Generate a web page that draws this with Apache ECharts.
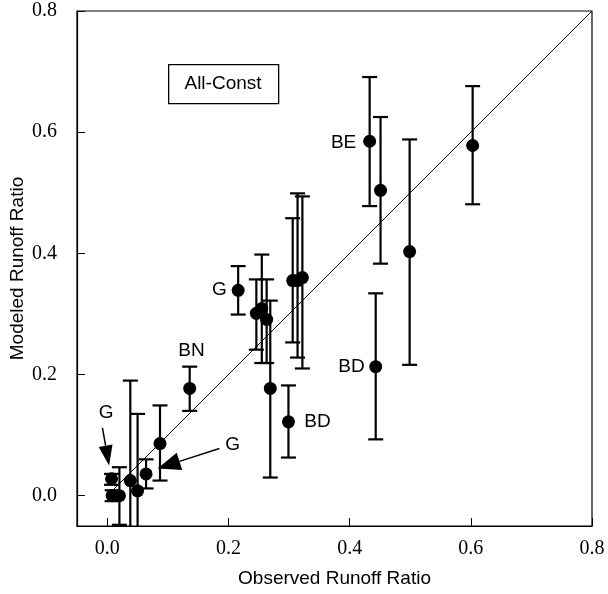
<!DOCTYPE html>
<html>
<head>
<meta charset="utf-8">
<script src="https://cdn.jsdelivr.net/npm/echarts@6/dist/echarts.min.js"></script>
<style>
html,body{margin:0;padding:0;background:#fff;}
#chart{width:608px;height:594px;}
</style>
</head>
<body>
<div id="chart"></div>
<script>
// ---- data ----
const obsX  = [0.007, 0.008, 0.020, 0.038, 0.050, 0.064, 0.087, 0.136, 0.216, 0.246, 0.255, 0.263, 0.269, 0.299, 0.306, 0.314, 0.322, 0.443, 0.433, 0.451, 0.499, 0.603];
const modY  = [0.028, 0.000, 0.000, 0.025, 0.008, 0.036, 0.086, 0.177, 0.339, 0.301, 0.309, 0.291, 0.177, 0.122, 0.355, 0.355, 0.360, 0.213, 0.585, 0.504, 0.403, 0.578];
const errLo = [0.018, -0.009, -0.048, -0.140, -0.140, 0.012, 0.025, 0.140, 0.299, 0.241, 0.219, 0.219, 0.030, 0.063, 0.253, 0.228, 0.210, 0.093, 0.478, 0.383, 0.216, 0.481];
const errHi = [0.036, 0.009, 0.047, 0.190, 0.135, 0.060, 0.149, 0.213, 0.379, 0.357, 0.398, 0.357, 0.322, 0.182, 0.458, 0.499, 0.494, 0.334, 0.691, 0.625, 0.588, 0.676];

const tickValues = [0.0, 0.2, 0.4, 0.6, 0.8];
const oneToOne = [[0, 0], [0.8, 0.8]];

const labelText = ['BE', 'BD', 'BD', 'G', 'BN', 'G', 'G'];
const labelX    = [0.390, 0.403, 0.347, 0.185, 0.139, -0.002, 0.207];
const labelY    = [0.582, 0.213, 0.122, 0.340, 0.240, 0.137, 0.084];

const arrowFromX = [-0.008, 0.185];
const arrowFromY = [0.112, 0.078];
const arrowToX   = [0.003, 0.083];
const arrowToY   = [0.050, 0.045];

const xTitle = 'Observed Runoff Ratio';
const yTitle = 'Modeled Runoff Ratio';
const boxTitle = 'All-Const';

// ---- chart ----
const chart = echarts.init(document.getElementById('chart'), null, {renderer: 'canvas'});

const serif = '"Liberation Serif", "DejaVu Serif", serif';
const sans = '"Liberation Sans", Arial, sans-serif';

const axisCommon = {
  type: 'value',
  min: -0.05,
  max: 0.8,
  nameLocation: 'middle',
  nameMoveOverlap: false,
  nameTextStyle: {fontFamily: sans, fontSize: 19, color: '#000'},
  axisLine: {show: true, onZero: false, lineStyle: {color: '#000', width: 1.2}},
  axisTick: {show: true, inside: true, length: 8, customValues: tickValues, lineStyle: {color: '#000', width: 1}},
  axisLabel: {customValues: tickValues, fontFamily: serif, fontSize: 20, color: '#000',
              formatter: v => v.toFixed(1)},
  splitLine: {show: false}
};

const errData = obsX.map((x, i) => [x, errLo[i], errHi[i]]);
const ptData = obsX.map((x, i) => [x, modY[i]]);
const lblData = labelX.map((x, i) => [x, labelY[i], labelText[i]]);
const arrData = arrowFromX.map((x, i) => [x, arrowFromY[i], arrowToX[i], arrowToY[i]]);

chart.setOption({
  animation: false,
  backgroundColor: '#fff',
  grid: {left: 77, right: 16, top: 11, bottom: 68, containLabel: false, outerBoundsMode: 'none',
         show: true, borderColor: '#000', borderWidth: 1.2, backgroundColor: 'transparent'},
  xAxis: Object.assign({}, axisCommon, {
    name: xTitle, nameGap: 43,
    axisLabel: Object.assign({}, axisCommon.axisLabel, {margin: 13})
  }),
  yAxis: Object.assign({}, axisCommon, {
    name: yTitle, nameGap: 50,
    axisLabel: Object.assign({}, axisCommon.axisLabel, {margin: 20})
  }),
  graphic: [
    {type: 'rect', left: 168, top: 64, shape: {width: 110, height: 39},
     style: {fill: '#fff', stroke: '#000', lineWidth: 1.3}, z: 10},
    {type: 'text', x: 223, y: 84, style: {text: boxTitle, font: '19px ' + sans, fill: '#000',
     textAlign: 'center', textVerticalAlign: 'middle'}, z: 11}
  ],
  series: [
    {
      type: 'line', data: oneToOne, symbol: 'none', silent: true,
      lineStyle: {color: '#000', width: 1}, z: 1
    },
    {
      type: 'custom', data: errData, clip: true, z: 2,
      renderItem: function (params, api) {
        const x = api.value(0);
        const pLo = api.coord([x, api.value(1)]);
        const pHi = api.coord([x, api.value(2)]);
        const hw = 7.5;
        const st = {stroke: '#000', lineWidth: 2.2};
        return {type: 'group', children: [
          {type: 'line', shape: {x1: pLo[0], y1: pLo[1], x2: pHi[0], y2: pHi[1]}, style: st},
          {type: 'line', shape: {x1: pHi[0] - hw, y1: pHi[1], x2: pHi[0] + hw, y2: pHi[1]}, style: st},
          {type: 'line', shape: {x1: pLo[0] - hw, y1: pLo[1], x2: pLo[0] + hw, y2: pLo[1]}, style: st}
        ]};
      }
    },
    {
      type: 'scatter', data: ptData, symbol: 'circle', symbolSize: 13,
      itemStyle: {color: '#000', opacity: 1}, z: 3
    },
    {
      type: 'custom', data: lblData, z: 4, silent: true,
      renderItem: function (params, api) {
        const p = api.coord([api.value(0), api.value(1)]);
        return {type: 'text', x: p[0], y: p[1], style: {text: lblData[params.dataIndex][2],
          font: '19px ' + sans, fill: '#000', textAlign: 'center', textVerticalAlign: 'middle'}};
      }
    },
    {
      type: 'custom', data: arrData, z: 4, silent: true,
      renderItem: function (params, api) {
        const a = api.coord([api.value(0), api.value(1)]);
        const b = api.coord([api.value(2), api.value(3)]);
        const dx = b[0] - a[0], dy = b[1] - a[1];
        const len = Math.sqrt(dx * dx + dy * dy);
        const ux = dx / len, uy = dy / len;
        const headLen = params.dataIndex === 0 ? 20 : 23;
        const headW = params.dataIndex === 0 ? 7 : 9;
        const bx = b[0] - ux * headLen, by = b[1] - uy * headLen;
        return {type: 'group', children: [
          {type: 'line', shape: {x1: a[0], y1: a[1], x2: bx, y2: by}, style: {stroke: '#000', lineWidth: 1.5}},
          {type: 'polygon', shape: {points: [[b[0], b[1]], [bx - uy * headW, by + ux * headW], [bx + uy * headW, by - ux * headW]]},
           style: {fill: '#000'}}
        ]};
      }
    }
  ]
});
</script>
</body>
</html>
